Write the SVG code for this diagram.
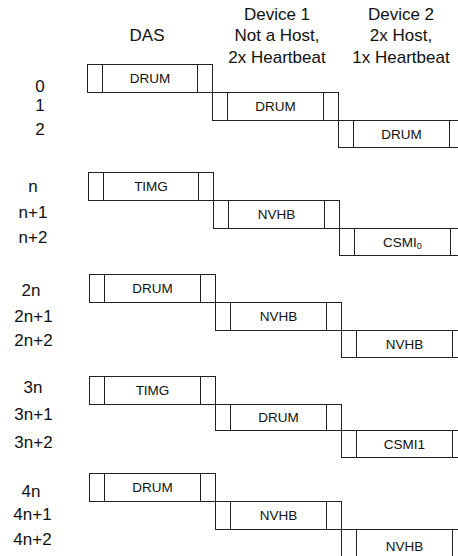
<svg xmlns="http://www.w3.org/2000/svg" width="458" height="556" viewBox="0 0 458 556">
<style>
  .bx{fill:#fff;stroke:#222;stroke-width:1}
  .ln{stroke:#222;stroke-width:1}
  .t{font-family:"Liberation Sans",Arial,sans-serif;font-size:13.5px;fill:#111;text-anchor:middle}
  .h{font-family:"Liberation Sans",Arial,sans-serif;font-size:17px;fill:#111;text-anchor:middle}
  .l{font-family:"Liberation Sans",Arial,sans-serif;font-size:17px;fill:#111;text-anchor:middle}
</style>
<rect width="458" height="556" fill="#fff"/>
<g id="headers">
  <text class="h" x="147" y="41">DAS</text>
  <text class="h" x="277" y="20">Device 1</text>
  <text class="h" x="277" y="41">Not a Host,</text>
  <text class="h" x="277" y="63">2x Heartbeat</text>
  <text class="h" x="401" y="20">Device 2</text>
  <text class="h" x="401" y="41">2x Host,</text>
  <text class="h" x="401" y="63">1x Heartbeat</text>
</g>
<g id="slot-labels">
  <text class="l" x="40" y="92">0</text>
  <text class="l" x="40" y="111">1</text>
  <text class="l" x="40" y="135">2</text>
  <text class="l" x="33" y="192">n</text>
  <text class="l" x="33" y="218">n+1</text>
  <text class="l" x="33" y="243">n+2</text>
  <text class="l" x="31" y="296">2n</text>
  <text class="l" x="33.5" y="321.5">2n+1</text>
  <text class="l" x="33.5" y="345.5">2n+2</text>
  <text class="l" x="33" y="392.5">3n</text>
  <text class="l" x="33.5" y="420">3n+1</text>
  <text class="l" x="33.5" y="448">3n+2</text>
  <text class="l" x="31" y="496.5">4n</text>
  <text class="l" x="32.5" y="520">4n+1</text>
  <text class="l" x="32.5" y="545">4n+2</text>
</g>
<!-- group 0..2 -->
<g id="s0-das"><rect class="bx" x="87.5" y="64.5" width="125" height="28"/><line class="ln" x1="102.5" y1="64.5" x2="102.5" y2="92.5"/><line class="ln" x1="197.5" y1="64.5" x2="197.5" y2="92.5"/><text class="t" x="150" y="83">DRUM</text></g>
<g id="s1-dev1"><rect class="bx" x="212.5" y="92.5" width="126" height="28"/><line class="ln" x1="227.5" y1="92.5" x2="227.5" y2="120.5"/><line class="ln" x1="323.5" y1="92.5" x2="323.5" y2="120.5"/><text class="t" x="275.5" y="111">DRUM</text></g>
<g id="s2-dev2"><rect class="bx" x="338.5" y="120.5" width="126" height="27"/><line class="ln" x1="353.5" y1="120.5" x2="353.5" y2="147.5"/><line class="ln" x1="449.5" y1="120.5" x2="449.5" y2="147.5"/><text class="t" x="401.5" y="139">DRUM</text></g>
<!-- group n -->
<g id="sn-das"><rect class="bx" x="88.5" y="172.5" width="125" height="28"/><line class="ln" x1="103.5" y1="172.5" x2="103.5" y2="200.5"/><line class="ln" x1="198.5" y1="172.5" x2="198.5" y2="200.5"/><text class="t" x="151" y="191">TIMG</text></g>
<g id="sn1-dev1"><rect class="bx" x="213.5" y="200.5" width="126" height="28"/><line class="ln" x1="228.5" y1="200.5" x2="228.5" y2="228.5"/><line class="ln" x1="324.5" y1="200.5" x2="324.5" y2="228.5"/><text class="t" x="276.5" y="219">NVHB</text></g>
<g id="sn2-dev2"><rect class="bx" x="339.5" y="228.5" width="126" height="27"/><line class="ln" x1="354.5" y1="228.5" x2="354.5" y2="255.5"/><line class="ln" x1="450.5" y1="228.5" x2="450.5" y2="255.5"/><text class="t" x="402.5" y="246.5">CSMI<tspan font-size="9" dy="2">0</tspan></text></g>
<!-- group 2n -->
<g id="s2n-das"><rect class="bx" x="89.5" y="274.5" width="126" height="28"/><line class="ln" x1="104.5" y1="274.5" x2="104.5" y2="302.5"/><line class="ln" x1="200.5" y1="274.5" x2="200.5" y2="302.5"/><text class="t" x="152.5" y="293">DRUM</text></g>
<g id="s2n1-dev1"><rect class="bx" x="215.5" y="302.5" width="126" height="28"/><line class="ln" x1="230.5" y1="302.5" x2="230.5" y2="330.5"/><line class="ln" x1="326.5" y1="302.5" x2="326.5" y2="330.5"/><text class="t" x="278.5" y="321">NVHB</text></g>
<g id="s2n2-dev2"><rect class="bx" x="341.5" y="330.5" width="126" height="27"/><line class="ln" x1="356.5" y1="330.5" x2="356.5" y2="357.5"/><line class="ln" x1="452.5" y1="330.5" x2="452.5" y2="357.5"/><text class="t" x="404.5" y="348.5">NVHB</text></g>
<!-- group 3n -->
<g id="s3n-das"><rect class="bx" x="89.5" y="376.5" width="126" height="28"/><line class="ln" x1="104.5" y1="376.5" x2="104.5" y2="404.5"/><line class="ln" x1="200.5" y1="376.5" x2="200.5" y2="404.5"/><text class="t" x="152.5" y="395">TIMG</text></g>
<g id="s3n1-dev1"><rect class="bx" x="215.5" y="404.5" width="126" height="26"/><line class="ln" x1="230.5" y1="404.5" x2="230.5" y2="430.5"/><line class="ln" x1="326.5" y1="404.5" x2="326.5" y2="430.5"/><text class="t" x="278.5" y="422">DRUM</text></g>
<g id="s3n2-dev2"><rect class="bx" x="341.5" y="430.5" width="126" height="27"/><line class="ln" x1="356.5" y1="430.5" x2="356.5" y2="457.5"/><line class="ln" x1="452.5" y1="430.5" x2="452.5" y2="457.5"/><text class="t" x="404.5" y="448.5">CSMI1</text></g>
<!-- group 4n -->
<g id="s4n-das"><rect class="bx" x="89.5" y="473.5" width="126" height="28"/><line class="ln" x1="104.5" y1="473.5" x2="104.5" y2="501.5"/><line class="ln" x1="200.5" y1="473.5" x2="200.5" y2="501.5"/><text class="t" x="152.5" y="492">DRUM</text></g>
<g id="s4n1-dev1"><rect class="bx" x="215.5" y="501.5" width="126" height="28"/><line class="ln" x1="230.5" y1="501.5" x2="230.5" y2="529.5"/><line class="ln" x1="326.5" y1="501.5" x2="326.5" y2="529.5"/><text class="t" x="278.5" y="520">NVHB</text></g>
<g id="s4n2-dev2"><rect class="bx" x="341.5" y="529.5" width="126" height="28"/><line class="ln" x1="356.5" y1="529.5" x2="356.5" y2="557.5"/><line class="ln" x1="452.5" y1="529.5" x2="452.5" y2="557.5"/><text class="t" x="404.5" y="551">NVHB</text></g>
</svg>
